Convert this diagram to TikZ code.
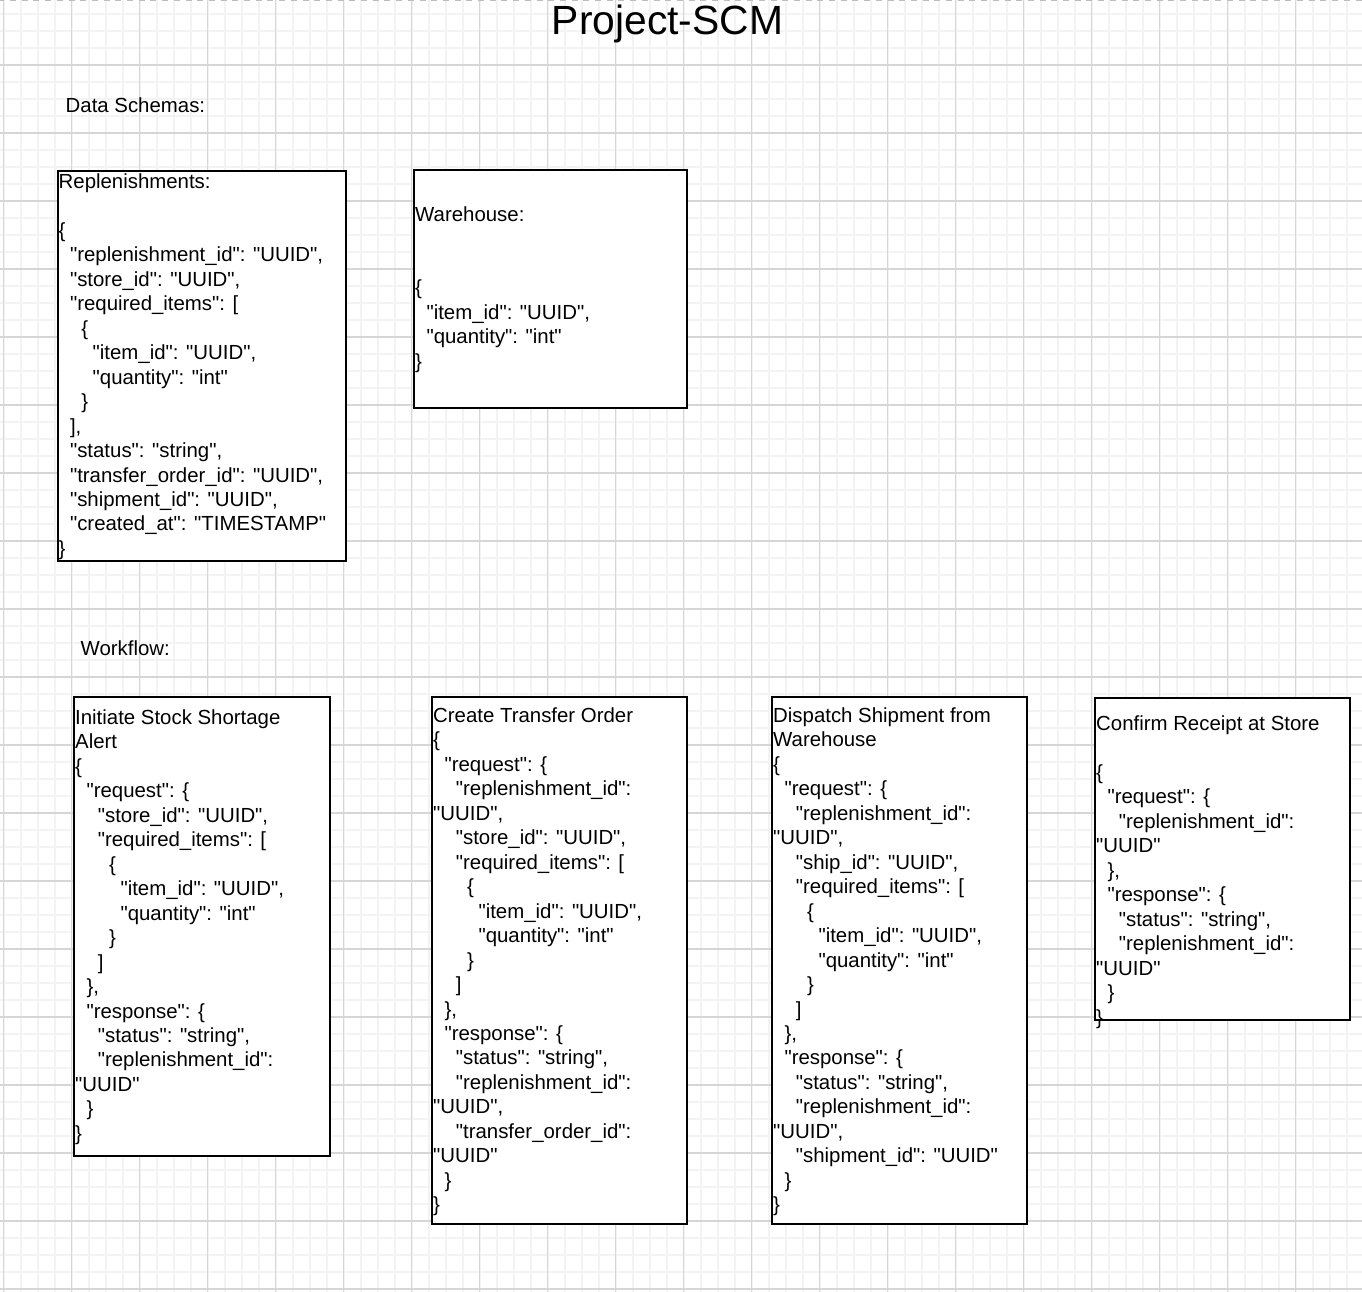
\documentclass[tikz,border=0pt]{standalone}
\usepackage{fontspec}
\setmainfont{Liberation Sans}[Ligatures=TeXOff]
\usepackage{xcolor}
\usepackage{tikz}
\usetikzlibrary{backgrounds}
\definecolor{gridminor}{HTML}{F3F3F3}
\definecolor{gridmajor}{HTML}{D6D6D6}
\definecolor{pageline}{HTML}{BDBDBD}
\newcommand{\ind}[1]{\hspace*{#1\fontdimen2\font}}
\begin{document}
\begin{tikzpicture}[x=1pt,y=-1pt,
	schema/.style={draw=black,line width=1.7pt,fill=white,anchor=north west,inner sep=0pt},
	json/.style={anchor=north west,inner sep=0pt,align=left,font=\fontsize{20.4}{24.48}\selectfont},
	heading/.style={inner sep=0pt,anchor=base west,font=\fontsize{20.4}{24.48}\selectfont}]
	\useasboundingbox (0,0) rectangle (1362,1292);
	\clip (0,0) rectangle (1362,1292);
	\fill[white] (0,0) rectangle (1362,1292);
	\foreach \x in {0,...,80}
	\draw[gridminor,line width=1.6pt] ({3.7+17*\x},0) -- ({3.7+17*\x},1292);
	\foreach \y in {1,...,76}
	\draw[gridminor,line width=1.6pt] (0,{-3+17*\y}) -- (1362,{-3+17*\y});
	\foreach \x in {0,...,20}
	\draw[gridmajor,line width=1.1pt] ({3.7+68*\x},0) -- ({3.7+68*\x},1292);
	\foreach \y in {1,...,19}
	\draw[gridmajor,line width=1.1pt] (0,{-3+68*\y}) -- (1362,{-3+68*\y});
	\draw[pageline,line width=1.5pt,dash pattern=on 6pt off 5.7pt] (-1.7,0.75) -- (1362,0.75);
	% titles
	\node[inner sep=0pt,anchor=base,font=\fontsize{40.8}{48}\selectfont] (title) at (667.5,35) {Project-SCM};
	\node[heading] (schemas) at (65.5,113) {Data Schemas:};
	\node[heading] (workflow) at (80.5,655) {Workflow:};
	% data schemas
	\node[schema,minimum width=288pt,minimum height=390pt] (repl) at (57,170) {};
	\node[schema,minimum width=273pt,minimum height=238pt] (ware) at (413,169) {};
	\node[json] (repltext) at (58.5,170.9) {\strut Replenishments:\\
		\strut\\
		\{\\
		\ind2"replenishment\_id": "UUID",\\
		\ind2"store\_id": "UUID",\\
		\ind2"required\_items": [\\
		\ind4\{\\
		\ind6"item\_id": "UUID",\\
		\ind6"quantity": "int"\\
		\ind4\}\\
		\ind2],\\
		\ind2"status": "string",\\
		\ind2"transfer\_order\_id": "UUID",\\
		\ind2"shipment\_id": "UUID",\\
		\ind2"created\_at": "TIMESTAMP"\\
		\}};
	\node[json] (waretext) at (415,203.9) {\strut Warehouse:\\
		\strut\\
		\strut\\
		\{\\
		\ind2"item\_id": "UUID",\\
		\ind2"quantity": "int"\\
		\}};
	% workflow steps
	\node[schema,minimum width=256pt,minimum height=459pt] (initiate) at (73,696) {};
	\node[schema,minimum width=255pt,minimum height=527pt] (transfer) at (431,696) {};
	\node[schema,minimum width=255pt,minimum height=527pt] (dispatch) at (771,696) {};
	\node[schema,minimum width=255pt,minimum height=322pt] (confirm) at (1094,697) {};
	\node[json] (initiatetext) at (75,706.9) {\strut Initiate Stock Shortage\\
		Alert\\
		\{\\
		\ind2"request": \{\\
		\ind4"store\_id": "UUID",\\
		\ind4"required\_items": [\\
		\ind6\{\\
		\ind8"item\_id": "UUID",\\
		\ind8"quantity": "int"\\
		\ind6\}\\
		\ind4]\\
		\ind2\},\\
		\ind2"response": \{\\
		\ind4"status": "string",\\
		\ind4"replenishment\_id":\\
		"UUID"\\
		\ind2\}\\
		\}};
	\node[json] (transfertext) at (433,704.9) {\strut Create Transfer Order\\
		\{\\
		\ind2"request": \{\\
		\ind4"replenishment\_id":\\
		"UUID",\\
		\ind4"store\_id": "UUID",\\
		\ind4"required\_items": [\\
		\ind6\{\\
		\ind8"item\_id": "UUID",\\
		\ind8"quantity": "int"\\
		\ind6\}\\
		\ind4]\\
		\ind2\},\\
		\ind2"response": \{\\
		\ind4"status": "string",\\
		\ind4"replenishment\_id":\\
		"UUID",\\
		\ind4"transfer\_order\_id":\\
		"UUID"\\
		\ind2\}\\
		\}};
	\node[json] (dispatchtext) at (773,704.9) {\strut Dispatch Shipment from\\
		Warehouse\\
		\{\\
		\ind2"request": \{\\
		\ind4"replenishment\_id":\\
		"UUID",\\
		\ind4"ship\_id": "UUID",\\
		\ind4"required\_items": [\\
		\ind6\{\\
		\ind8"item\_id": "UUID",\\
		\ind8"quantity": "int"\\
		\ind6\}\\
		\ind4]\\
		\ind2\},\\
		\ind2"response": \{\\
		\ind4"status": "string",\\
		\ind4"replenishment\_id":\\
		"UUID",\\
		\ind4"shipment\_id": "UUID"\\
		\ind2\}\\
		\}};
	\node[json] (confirmtext) at (1096,712.9) {\strut Confirm Receipt at Store\\
		\strut\\
		\{\\
		\ind2"request": \{\\
		\ind4"replenishment\_id":\\
		"UUID"\\
		\ind2\},\\
		\ind2"response": \{\\
		\ind4"status": "string",\\
		\ind4"replenishment\_id":\\
		"UUID"\\
		\ind2\}\\
		\}};
\end{tikzpicture}
\end{document}
